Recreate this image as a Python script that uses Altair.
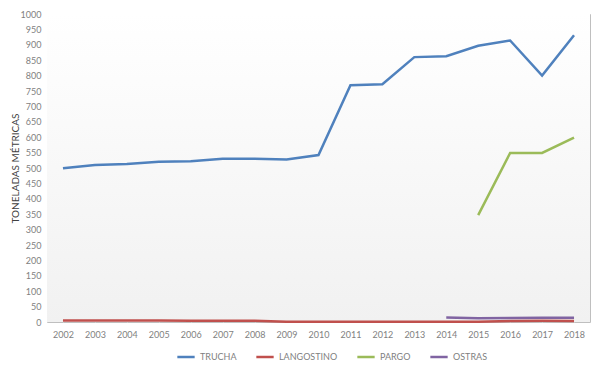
import altair as alt
import pandas as pd

years = [str(y) for y in range(2002, 2019)]
trucha = [499, 510, 513, 520, 522, 530, 530, 528, 542, 769, 772, 860, 863, 897, 914, 800, 931]
langostino = [5, 5, 5, 5, 4, 4, 4, 1, 1, 1, 1, 1, 1, 1, 3, 4, 3]
pargo = [None] * 13 + [347, 549, 549, 599]
ostras = [None] * 12 + [15, 12, 13, 14, 14]

series = ["TRUCHA", "LANGOSTINO", "PARGO", "OSTRAS"]
colors = ["#4F81BD", "#C0504D", "#9BBB59", "#8064A2"]
y_ticks = list(range(0, 1001, 50))

rows = []
for name, vals in zip(series, [trucha, langostino, pargo, ostras]):
    for yr, v in zip(years, vals):
        if v is not None:
            rows.append({"year": yr, "serie": name, "value": v})
df = pd.DataFrame(rows)

y_axis = alt.Axis(title="TONELADAS MÉTRICAS", values=y_ticks, grid=False,
                  format="d", labelOverlap=False,
                  ticks=False, domain=False, labelColor="#7f7f7f",
                  labelFontSize=9, labelPadding=6, labelFont="Lato",
                  titleFont="Lato", titleFontSize=10, titleFontWeight="normal",
                  titleColor="#404040", titleX=-27, titleY=154,
                  titleAngle=270, titleBaseline="bottom", titleAlign="center")
y_scale = alt.Scale(domain=[0, 1000], nice=False)

bg = alt.Chart(pd.DataFrame([{"lo": 0, "hi": 1000}])).mark_rect(
    fill=alt.Gradient(
        gradient="linear", x1=0, y1=0, x2=0, y2=1,
        stops=[alt.GradientStop(color="#ffffff", offset=0),
               alt.GradientStop(color="#f1f1f1", offset=1)],
    )
).encode(
    y=alt.Y("hi:Q", scale=y_scale, axis=y_axis),
    y2="lo:Q",
)

lines = alt.Chart(df).mark_line(strokeWidth=2.5).encode(
    x=alt.X("year:O", sort=years, scale=alt.Scale(type="point", padding=0.5),
            axis=alt.Axis(title=None, labelAngle=0, grid=True, gridColor="#d9d9d9",
                          ticks=False, domain=False, labelColor="#7f7f7f",
                          labelFontSize=9, labelPadding=8, labelFont="Lato")),
    y=alt.Y("value:Q", scale=y_scale, axis=y_axis),
    color=alt.Color("serie:N", scale=alt.Scale(domain=series, range=colors),
                    legend=alt.Legend(title=None, orient="none", direction="horizontal",
                                      legendX=129, legendY=333, symbolType="stroke",
                                      symbolStrokeWidth=2.5, symbolSize=300,
                                      labelColor="#7f7f7f", labelFontSize=9,
                                      labelFont="Lato", columnPadding=14)),
    detail="serie:N",
)

chart = alt.layer(bg, lines).properties(
    width=543, height=308,
    autosize=alt.AutoSizeParams(type="none"),
    padding={"left": 39, "top": 6, "right": 2, "bottom": 45},
).configure_view(stroke="#bfbfbf", strokeWidth=1)

chart.save("out.html", embed_options={"renderer": "svg", "actions": False})
